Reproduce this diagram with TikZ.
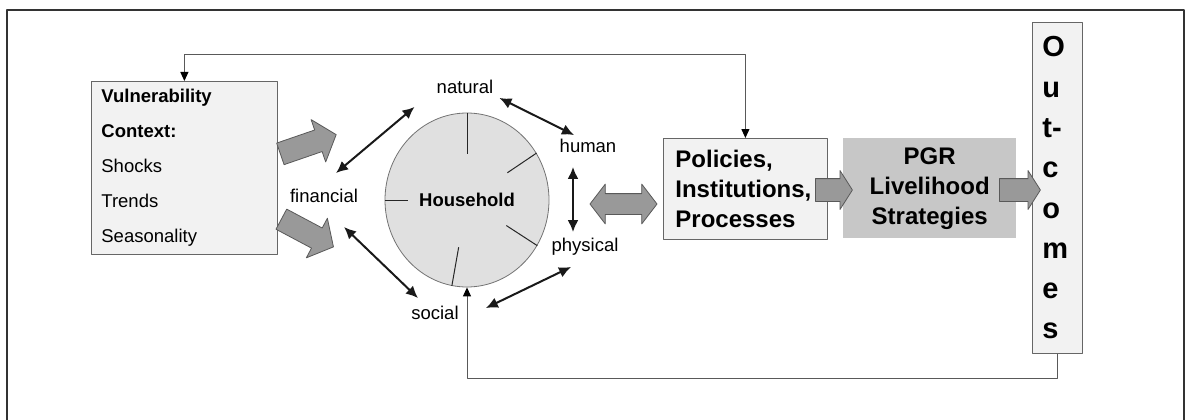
\documentclass[tikz,border=0pt]{standalone}
\usepackage{fontspec}
\setmainfont{Liberation Sans}
\usetikzlibrary{shapes.geometric,shapes.arrows,arrows.meta,calc}
\definecolor{boxgray}{gray}{0.95}
\definecolor{pgrgray}{gray}{0.78}
\definecolor{fatgray}{gray}{0.6}
\definecolor{housegray}{gray}{0.88}
\begin{document}
\begin{tikzpicture}[x=1pt,y=-1pt,line join=round,
	fbtip/.tip={Triangle[length=9pt,width=8pt,color=black]},
	asset/.style={font=\fontsize{18.5}{22}\selectfont,inner sep=2pt,text height=13.5pt,text depth=4pt},
	link/.style={{Latex[length=12pt,width=11pt]}-{Latex[length=12pt,width=11pt]},line width=2pt,black!90},
	feed/.style={draw=black!65,line width=1pt},
	spoke/.style={draw=black!85,line width=1pt},
	panel/.style={draw=black!60,fill=boxgray,line width=.8pt,anchor=north west},
	fat/.style={single arrow,draw=black!65,fill=fatgray,line width=.8pt,inner xsep=0pt,inner ysep=11pt,anchor=tail},
	bigtext/.style={font=\bfseries\fontsize{24}{30}\selectfont}]
	\useasboundingbox (0,0) rectangle (1189,420);
	\draw[line width=2.5pt,black!80] (7,430)--(7,10)--(1184,10)--(1184,430);
	\node[panel,minimum height=173pt,text width=166pt,inner xsep=10pt,align=left,font=\fontsize{18.5}{35}\selectfont] (vuln) at (91,81)
		{\textbf{Vulnerability}\\\textbf{Context:}\\Shocks\\Trends\\Seasonality};
	\node[ellipse,draw=black!55,fill=housegray,line width=.8pt,minimum width=164pt,minimum height=174pt,inner sep=0pt,font=\bfseries\fontsize{18.5}{22}\selectfont] (house) at (467,200) {Household};
	\foreach \a/\f in {90/.53,34/.58,180/.71,-33/.56,-100/.55}
		\draw[spoke] (house.\a)--($(house.center)!\f!(house.\a)$);
	\node[asset] (natural) at (465,89) {natural};
	\node[asset] (human) at (588,148) {human};
	\node[asset] (financial) at (324,198) {financial};
	\node[asset] (physical) at (585,247) {physical};
	\node[asset] (social) at (435,315) {social};
	\draw[link] ([shift={(12,-14)}]financial.north)--([shift={(-20,7)}]natural.south west);
	\draw[link] ([shift={(4,-2)}]natural.south east)--([shift={(-14,-2)}]human.north);
	\draw[link] ([shift={(-15,8)}]human.south)--([shift={(-12,-4)}]physical.north);
	\draw[link] ([shift={(20,18)}]financial.south)--([shift={(-17,-6)}]social.north);
	\draw[link] ([shift={(25,4)}]social.north east)--([shift={(-14,9)}]physical.south);
	\node[fat,rotate=19,minimum height=59pt,minimum width=44pt,single arrow head extend=11pt,single arrow tip angle=100] (fatup) at (280,154) {};
	\node[fat,rotate=-28,minimum height=59pt,minimum width=44pt,single arrow head extend=11pt,single arrow tip angle=100] (fatdown) at (281,219) {};
	\node[double arrow,draw=black!65,fill=fatgray,line width=.8pt,inner xsep=0pt,inner ysep=10pt,minimum height=67pt,minimum width=39pt,double arrow head extend=9.5pt,double arrow tip angle=105] (swap) at (623.5,204) {};
	\node[panel,bigtext,minimum height=101pt,text width=140pt,inner xsep=12pt,align=left] (pol) at (663,138)
		{Policies,\\Institutions,\\Processes};
	\node[fill=pgrgray,anchor=north west,bigtext,minimum height=100pt,text width=153pt,inner xsep=10pt,align=center] (pgr) at (843,138)
		{PGR\\Livelihood\\Strategies};
	\node[fat,minimum height=37pt,minimum width=38pt,single arrow head extend=8pt,single arrow tip angle=115] (fatpgr) at (815,190) {};
	\node[panel,minimum height=331pt,text width=30pt,inner xsep=10pt,align=left,font=\bfseries\fontsize{29}{40.3}\selectfont] (out) at (1032,22)
		{O\\u\\t-\\c\\o\\m\\e\\s};
	\node[fat,minimum height=41pt,minimum width=38pt,single arrow head extend=8pt,single arrow tip angle=115] (fatout) at (999,190) {};
	\draw[feed,fbtip-fbtip] (vuln.north)--++(0,-26)-|(pol.north);
	\draw[feed,-fbtip] (out.south)--++(0,25)-|(house.south);
\end{tikzpicture}
\end{document}
